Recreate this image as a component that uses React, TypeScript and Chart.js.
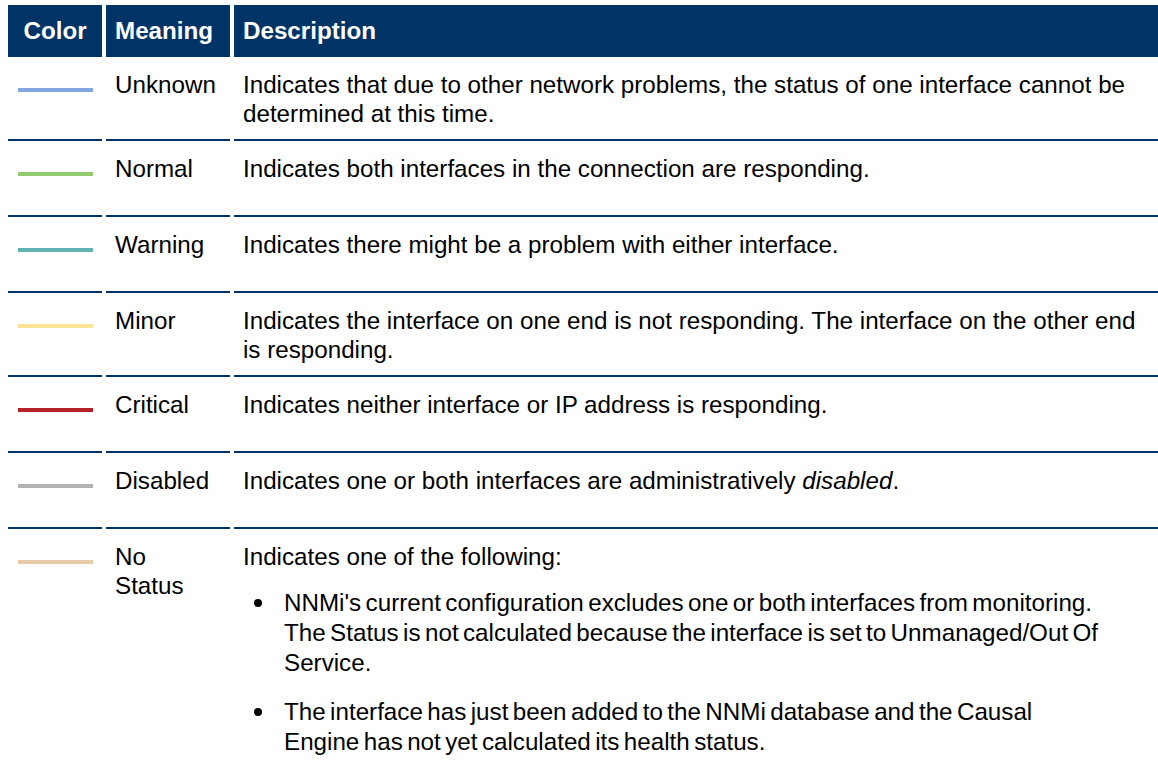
import React, { useEffect, useRef } from "react";
import { Chart, registerables } from "chart.js";

Chart.register(...registerables);

// ---------- data ----------
const headers = ["Color", "Meaning", "Description"];
const meanings = ["Unknown", "Normal", "Warning", "Minor", "Critical", "Disabled", "No Status"];
const lineColors = ["#82a6df", "#92c96e", "#62b3b5", "#fbe493", "#b42127", "#b5b2b2", "#e6cba6"];
const swatchPoints = ["start", "end"];
const swatchLevel = [1, 1];

const descUnknown = [
  "Indicates that due to other network problems, the status of one interface cannot be",
  "determined at this time.",
];
const descNormal = ["Indicates both interfaces in the connection are responding."];
const descWarning = ["Indicates there might be a problem with either interface."];
const descMinor = [
  "Indicates the interface on one end is not responding. The interface on the other end",
  "is responding.",
];
const descCritical = ["Indicates neither interface or IP address is responding."];
const descDisabledPre = "Indicates one or both interfaces are administratively ";
const descDisabledEm = "disabled";
const descNoStatusIntro = "Indicates one of the following:";
const bulletOne = [
  "NNMi's current configuration excludes one or both interfaces from monitoring.",
  "The Status is not calculated because the interface is set to Unmanaged/Out Of",
  "Service.",
];
const bulletTwo = [
  "The interface has just been added to the NNMi database and the Causal",
  "Engine has not yet calculated its health status.",
];

// ---------- styles ----------
const NAVY = "#003366";
const FONT = '"Liberation Sans", Arial, Helvetica, sans-serif';

const thBase: React.CSSProperties = {
  background: NAVY,
  color: "#fff",
  fontWeight: "bold",
  textAlign: "left",
  padding: "11px 9px 12px",
  boxSizing: "border-box",
  verticalAlign: "middle",
};

const tdBase: React.CSSProperties = {
  padding: "13px 9px 11px",
  borderBottom: `2px solid ${NAVY}`,
  verticalAlign: "top",
  boxSizing: "border-box",
};

function Swatch({ color }: { color: string }) {
  const ref = useRef<HTMLCanvasElement | null>(null);
  useEffect(() => {
    if (!ref.current) return;
    const chart = new Chart(ref.current, {
      type: "line",
      data: {
        labels: swatchPoints,
        datasets: [
          {
            data: swatchLevel,
            borderColor: color,
            borderWidth: 4,
            pointRadius: 0,
            fill: false,
            tension: 0,
          },
        ],
      },
      options: {
        animation: false,
        responsive: false,
        devicePixelRatio: 1,
        events: [],
        layout: { padding: 0 },
        plugins: { legend: { display: false }, tooltip: { enabled: false } },
        scales: {
          x: { display: false, offset: false },
          y: { display: false, min: 0, max: 2 },
        },
      },
    });
    return () => chart.destroy();
  }, [color]);
  return (
    <div style={{ height: 50 }}>
      <canvas ref={ref} width={75} height={42} style={{ display: "block", margin: "0 auto", width: 75, height: 42 }} />
    </div>
  );
}

function Lines({ lines }: { lines: string[] }) {
  return (
    <>
      {lines.map((l, i) => (
        <React.Fragment key={i}>
          {i > 0 && <br />}
          {l}
        </React.Fragment>
      ))}
    </>
  );
}

function Bullet({ lines, mt }: { lines: string[]; mt: number }) {
  return (
    <div style={{ position: "relative", paddingLeft: 41, marginTop: mt, lineHeight: "30px", wordSpacing: "-2.3px" }}>
      <div
        style={{
          position: "absolute",
          left: 11,
          top: 11,
          width: 8,
          height: 8,
          borderRadius: "50%",
          background: "#000",
        }}
      />
      <Lines lines={lines} />
    </div>
  );
}

export default function App() {
  const descriptions: React.ReactNode[] = [
    <Lines lines={descUnknown} />,
    <Lines lines={descNormal} />,
    <Lines lines={descWarning} />,
    <Lines lines={descMinor} />,
    <Lines lines={descCritical} />,
    <>
      {descDisabledPre}
      <i>{descDisabledEm}</i>.
    </>,
    <>
      <div>{descNoStatusIntro}</div>
      <Bullet lines={bulletOne} mt={17} />
      <Bullet lines={bulletTwo} mt={19} />
    </>,
  ];

  return (
    <div style={{ position: "fixed", inset: 0, overflow: "hidden", background: "#fff" }}>
      <table
        style={{
          position: "absolute",
          left: 4,
          top: 5,
          width: 4 + 94 + 4 + 124 + 4 + 930 + 4,
          tableLayout: "fixed",
          borderCollapse: "separate",
          borderSpacing: "4px 0",
          fontFamily: FONT,
          fontSize: 24.2,
          lineHeight: "29px",
          color: "#000",
        }}
      >
        <thead>
          <tr>
            <th style={{ ...thBase, width: 94, textAlign: "center", padding: "11px 0 12px" }}>{headers[0]}</th>
            <th style={{ ...thBase, width: 124 }}>{headers[1]}</th>
            <th style={{ ...thBase, width: 930 }}>{headers[2]}</th>
          </tr>
        </thead>
        <tbody>
          {meanings.map((m, i) => (
            <tr key={m}>
              <td style={{ ...tdBase, padding: "12px 0" }}>
                <Swatch color={lineColors[i]} />
              </td>
              <td style={{ ...tdBase, paddingRight: 13 }}>{m}</td>
              <td style={{ ...tdBase, whiteSpace: "nowrap" }}>{descriptions[i]}</td>
            </tr>
          ))}
        </tbody>
      </table>
    </div>
  );
}
